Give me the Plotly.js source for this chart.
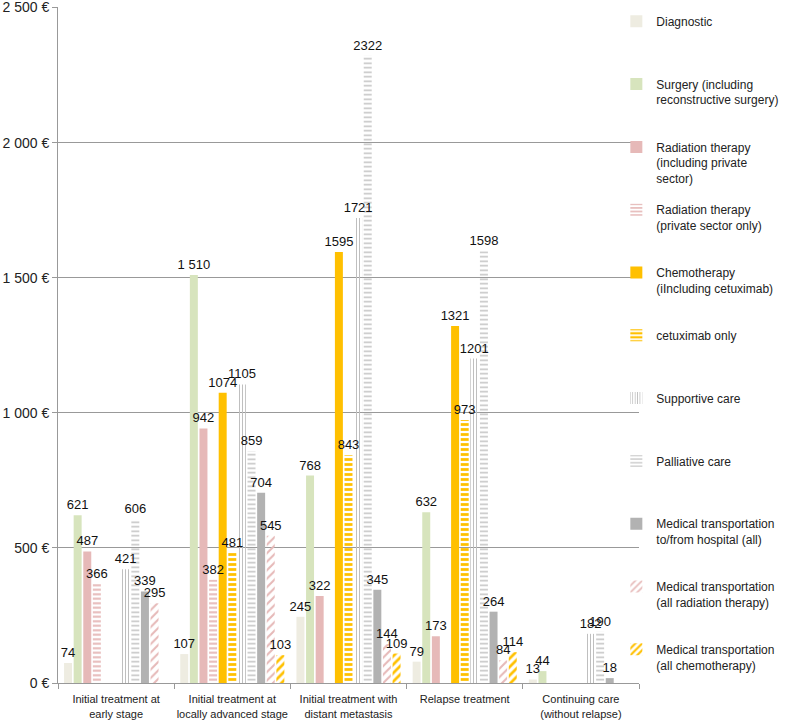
<!DOCTYPE html>
<html>
<head>
<meta charset="utf-8">
<script src="https://cdn.plot.ly/plotly-3.0.1.min.js"></script>
<style>
  body { margin: 0; background: #fff; }
  #chart { width: 791px; height: 726px; }
</style>
</head>
<body>
<div id="chart"></div>
<script>
var categories = ['Initial treatment at<br>early stage', 'Initial treatment at<br>locally advanced stage',
  'Initial treatment with<br>distant metastasis', 'Relapse treatment', 'Continuing care<br>(without relapse)'];

var diagnostic = [74, 107, 245, 79, 13];
var surgery = [621, 1510, 768, 632, 44];
var surgeryLabels = ['621', '1 510', '768', '632', '44'];
var radiation = [487, 942, 322, 173, null];
var radiationPrivate = [366, 382, null, null, null];
var chemo = [null, 1074, 1595, 1321, null];
var cetuximab = [null, 481, 843, 973, null];
var supportive = [421, 1105, 1721, 1201, 182];
var palliative = [606, 859, 2322, 1598, 190];
var transportAll = [339, 704, 345, 264, 18];
var transportRadio = [295, 545, 144, 84, null];
var transportChemo = [null, 103, 109, 114, null];

var yTicks = [0, 500, 1000, 1500, 2000, 2500];
var yTickText = ['0 €', '500 €', '1 000 €', '1 500 €', '2 000 €', '2 500 €'];

function labels(vals) {
  return vals.map(function (v) { return v == null ? '' : String(v); });
}

function bar(name, vals, color, pattern, text) {
  var t = {
    type: 'bar',
    name: name,
    legendgroup: name,
    x: categories,
    y: vals,
    text: text || labels(vals),
    textposition: 'outside',
    constraintext: 'none',
    cliponaxis: false,
    textfont: {family: 'Liberation Sans, Arial, sans-serif', size: 13, color: '#111'},
    hoverinfo: 'y+name',
    marker: {color: color, line: {width: 0}}
  };
  if (pattern) {
    t.marker.color = 'rgba(255,255,255,0)';
    pattern.bgcolor = 'rgba(255,255,255,0)';
    pattern.fillmode = 'replace';
    t.marker.pattern = pattern;
  }
  return t;
}

var data = [
  bar('Diagnostic<br> <br> ', diagnostic, '#eeece1'),
  bar('Surgery (including<br>reconstructive surgery)<br> ', surgery, '#d7e4bd', null, surgeryLabels),
  bar('Radiation therapy<br>(including private<br>sector)', radiation, '#e6b9b8'),
  bar('Radiation therapy<br>(private sector only)<br> ', radiationPrivate, '#e6b9b8',
    {shape: '-', fgcolor: '#e6b9b8', size: 4.5, solidity: 0.45}),
  bar('Chemotherapy<br>(iIncluding cetuximab)<br> ', chemo, '#ffc000'),
  bar('cetuximab only<br> <br> ', cetuximab, '#ffc000',
    {shape: '-', fgcolor: '#ffc000', size: 5, solidity: 0.55}),
  bar('Supportive care<br> <br> ', supportive, '#bfbfbf',
    {shape: '|', fgcolor: '#bfbfbf', size: 3, solidity: 0.35}),
  bar('Palliative care<br> <br> ', palliative, '#bfbfbf',
    {shape: '-', fgcolor: '#c4c4c4', size: 4.5, solidity: 0.35}),
  bar('Medical transportation<br>to/from hospital (all)<br> ', transportAll, '#b2b2b2'),
  bar('Medical transportation<br>(all radiation therapy)<br> ', transportRadio, '#e6b9b8',
    {shape: '/', fgcolor: '#e6b9b8', size: 6, solidity: 0.35}),
  bar('Medical transportation<br>(all chemotherapy)<br> ', transportChemo, '#ffc000',
    {shape: '/', fgcolor: '#ffc000', size: 6, solidity: 0.45})
];

var layout = {
  width: 791,
  height: 726,
  margin: {l: 58, r: 150, t: 7, b: 43},
  paper_bgcolor: '#ffffff',
  plot_bgcolor: '#ffffff',
  font: {family: 'Liberation Sans, Arial, sans-serif', color: '#222'},
  barmode: 'group',
  bargap: 0.09,
  bargroupgap: 0.17,
  showlegend: true,
  legend: {
    x: 0.961, xanchor: 'left', y: 1.0, yanchor: 'top',
    valign: 'top',
    tracegroupgap: 13,
    maxheight: 720,
    font: {size: 12, color: '#222'},
    bgcolor: 'rgba(0,0,0,0)'
  },
  xaxis: {
    type: 'category',
    showline: true,
    linecolor: '#999',
    linewidth: 1,
    ticks: 'outside',
    tickson: 'boundaries',
    ticklen: 5,
    tickcolor: '#999',
    tickangle: 0,
    ticklabelstandoff: 6,
    tickfont: {size: 11, color: '#222'},
    showgrid: false
  },
  yaxis: {
    range: [0, 2502],
    tickvals: yTicks,
    ticktext: yTickText,
    ticklabeloverflow: 'allow',
    tickfont: {size: 14, color: '#222'},
    showline: true,
    linecolor: '#999',
    ticks: 'outside',
    ticklen: 5,
    tickcolor: '#999',
    showgrid: true,
    gridcolor: '#999',
    gridwidth: 1,
    zeroline: false
  }
};

Plotly.newPlot('chart', data, layout, {displayModeBar: false}).then(function (gd) {
  // keep value labels above every bar, as in the original
  var layer = gd.querySelector('.barlayer');
  gd.querySelectorAll('.barlayer .bartext').forEach(function (t) { layer.appendChild(t); });
});
</script>
</body>
</html>
